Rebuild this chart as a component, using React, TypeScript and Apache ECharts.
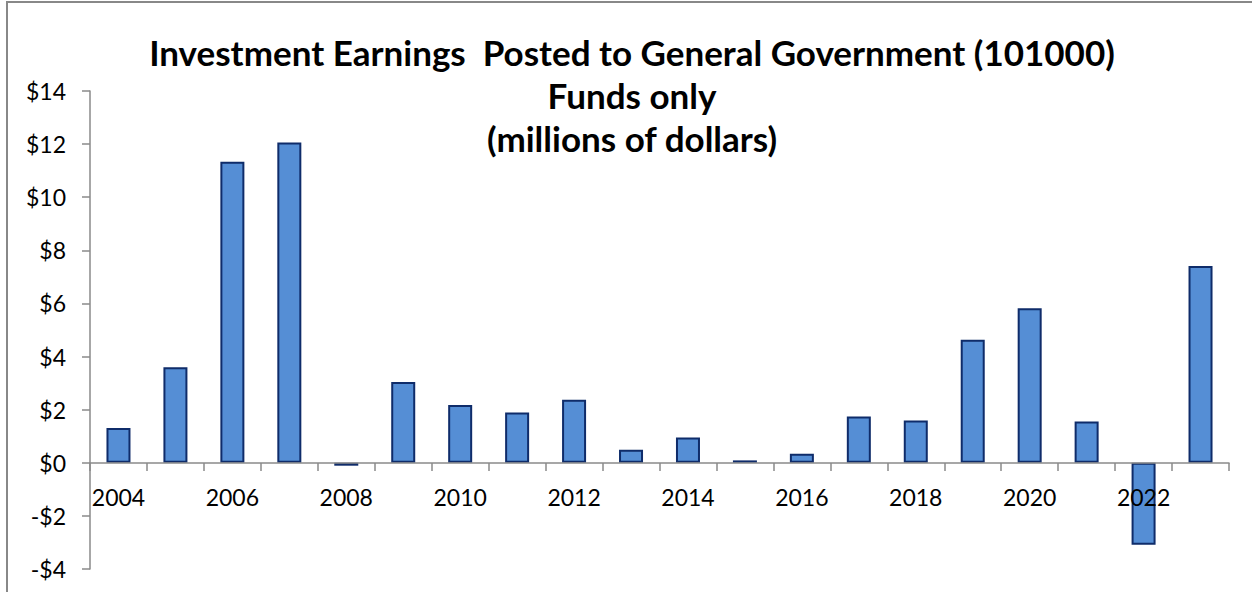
import React, { useEffect, useRef } from "react";
import * as echarts from "echarts";

const years = [
  "2004", "2005", "2006", "2007", "2008", "2009", "2010", "2011", "2012", "2013",
  "2014", "2015", "2016", "2017", "2018", "2019", "2020", "2021", "2022", "2023",
];
const earnings = [
  1.31, 3.6, 11.34, 12.06, -0.11, 3.04, 2.18, 1.89, 2.37, 0.49,
  0.95, 0.09, 0.34, 1.74, 1.59, 4.63, 5.82, 1.55, -3.09, 7.41,
];
const titleLines = [
  "Investment Earnings  Posted to General Government (101000)",
  "Funds only",
  "(millions of dollars)",
];

export default function App() {
  const ref = useRef<HTMLDivElement>(null);
  useEffect(() => {
    if (!ref.current) return;
    const chart = echarts.init(ref.current, null, { renderer: "svg" });
    const axisColor = "#8a8a8a";
    chart.setOption({
      animation: false,
      backgroundColor: "#ffffff",
      title: {
        text: titleLines.join("\n"),
        left: 627,
        top: 25,
        textAlign: "center",
        textStyle: {
          fontFamily: "Lato",
          fontWeight: "bold",
          fontSize: 35,
          lineHeight: 43,
          color: "#000000",
          align: "center",
        },
      },
      graphic: [
        { type: "line", shape: { x1: 7, y1: 2, x2: 7, y2: 592 }, style: { stroke: "#888888", lineWidth: 2 } },
        { type: "line", shape: { x1: 6, y1: 2, x2: 1252, y2: 2 }, style: { stroke: "#888888", lineWidth: 2 } },
      ],
      grid: { left: 90, right: 23, top: 91, bottom: 23, containLabel: false, outerBoundsMode: "none" },
      xAxis: {
        type: "category",
        data: years,
        z: 5,
        offset: -106,
        axisLine: { onZero: false, lineStyle: { color: axisColor, width: 1.5 } },
        axisTick: { show: true, interval: 0, length: 8, lineStyle: { color: axisColor, width: 1.5 } },
        axisLabel: {
          interval: 1,
          margin: 22,
          fontFamily: "Lato",
          fontSize: 23,
          color: "#000000",
        },
        splitLine: { show: false },
      },
      yAxis: {
        type: "value",
        min: -4,
        max: 14,
        interval: 2,
        axisLine: { show: true, lineStyle: { color: axisColor, width: 1.5 } },
        axisTick: { show: true, length: 8, lineStyle: { color: axisColor, width: 1.5 } },
        splitLine: { show: false },
        axisLabel: {
          margin: 24,
          fontFamily: "Lato",
          fontSize: 23,
          color: "#000000",
          formatter: (v: number) => (v < 0 ? "-$" + Math.abs(v) : "$" + v),
        },
      },
      series: [
        {
          type: "bar",
          data: earnings,
          barWidth: 24,
          z: 2,
          itemStyle: {
            color: "#558ED5",
            borderColor: "#0F2C6A",
            borderWidth: 2,
          },
        },
      ],
    });
    return () => chart.dispose();
  }, []);
  return (
    <div
      ref={ref}
      style={{ position: "fixed", left: 0, top: 0, width: 1252, height: 592 }}
    />
  );
}
